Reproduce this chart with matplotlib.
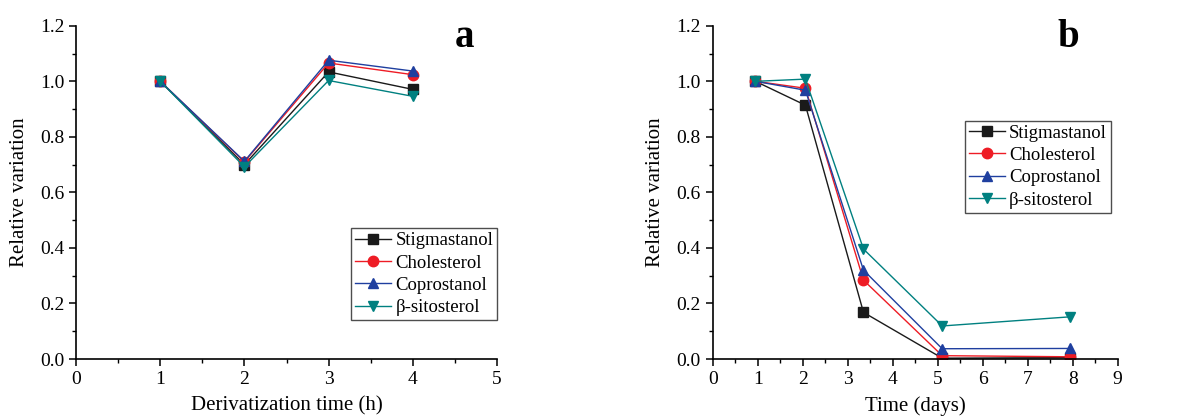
import matplotlib.pyplot as plt
from matplotlib.ticker import MultipleLocator
import numpy as np

plt.rcParams['font.family'] = ['Liberation Serif', 'DejaVu Serif']
plt.rcParams['mathtext.fontset'] = 'stix'

names = ['Stigmastanol', 'Cholesterol', 'Coprostanol', '\u03b2-sitosterol']
colors = ['#1a1a1a', '#ee1c25', '#1f3f9f', '#008080']
markers = ['s', 'o', '^', 'v']

# panel a: derivatization time
time_h = [1, 2, 3, 4]
a_stig = [1.0, 0.700, 1.034, 0.971]
a_chol = [1.0, 0.710, 1.066, 1.024]
a_copr = [1.0, 0.712, 1.076, 1.037]
a_sito = [1.0, 0.692, 1.003, 0.946]

# panel b: storage time
time_d = [0.95, 2.06, 3.35, 5.10, 7.95]
b_stig = [1.0, 0.914, 0.168, 0.003, 0.005]
b_chol = [1.0, 0.975, 0.284, 0.012, 0.008]
b_copr = [1.0, 0.968, 0.320, 0.037, 0.038]
b_sito = [1.0, 1.008, 0.396, 0.119, 0.152]

fig = plt.figure(figsize=(11.81, 4.16), dpi=100)
ax1 = fig.add_axes([0.0644, 0.137, 0.3564, 0.801])
ax2 = fig.add_axes([0.6035, 0.137, 0.3429, 0.801])


def style(ax, xmax, xlabel, letter, lx):
    ax.spines['top'].set_visible(False)
    ax.spines['right'].set_visible(False)
    ax.spines['left'].set_linewidth(1.2)
    ax.spines['bottom'].set_linewidth(1.2)
    ax.set_xlim(0, xmax)
    ax.set_ylim(0, 1.2)
    ax.xaxis.set_major_locator(MultipleLocator(1))
    ax.xaxis.set_minor_locator(MultipleLocator(0.5))
    ax.yaxis.set_major_locator(MultipleLocator(0.2))
    ax.yaxis.set_minor_locator(MultipleLocator(0.1))
    ax.yaxis.set_major_formatter(plt.FormatStrFormatter('%.1f'))
    ax.tick_params(which='major', direction='out', length=5, width=1.1, labelsize=14)
    ax.tick_params(which='minor', direction='out', length=3, width=1.0)
    ax.set_xlabel(xlabel, fontsize=15, labelpad=6)
    ax.set_ylabel('Relative variation', fontsize=15, labelpad=8)
    ax.text(lx, 0.936, letter, transform=ax.transAxes, fontsize=28,
            fontweight='bold', ha='center', va='baseline')


for ys, n, c, m in zip([a_stig, a_chol, a_copr, a_sito], names, colors, markers):
    ax1.plot(time_h, ys, color=c, marker=m, markersize=7.5, linewidth=1.0, label=n)
for ys, n, c, m in zip([b_stig, b_chol, b_copr, b_sito], names, colors, markers):
    ax2.plot(time_d, ys, color=c, marker=m, markersize=7.5, linewidth=1.0, label=n)

style(ax1, 5, 'Derivatization time (h)', 'a', 0.924)
style(ax2, 9, 'Time (days)', 'b', 0.877)

for ax, loc, anchor in [(ax1, 'lower right', (1.0, 0.117)),
                        (ax2, 'upper right', (0.983, 0.715))]:
    leg = ax.legend(loc=loc, bbox_to_anchor=anchor, fontsize=13.5, frameon=True,
                    fancybox=False, shadow=False, borderpad=0.2,
                    labelspacing=0.28, handlelength=1.9, handletextpad=0.25,
                    borderaxespad=0)
    leg.get_frame().set_edgecolor('#222222')
    leg.get_frame().set_linewidth(1.0)

fig.savefig('out.png', dpi=100)
